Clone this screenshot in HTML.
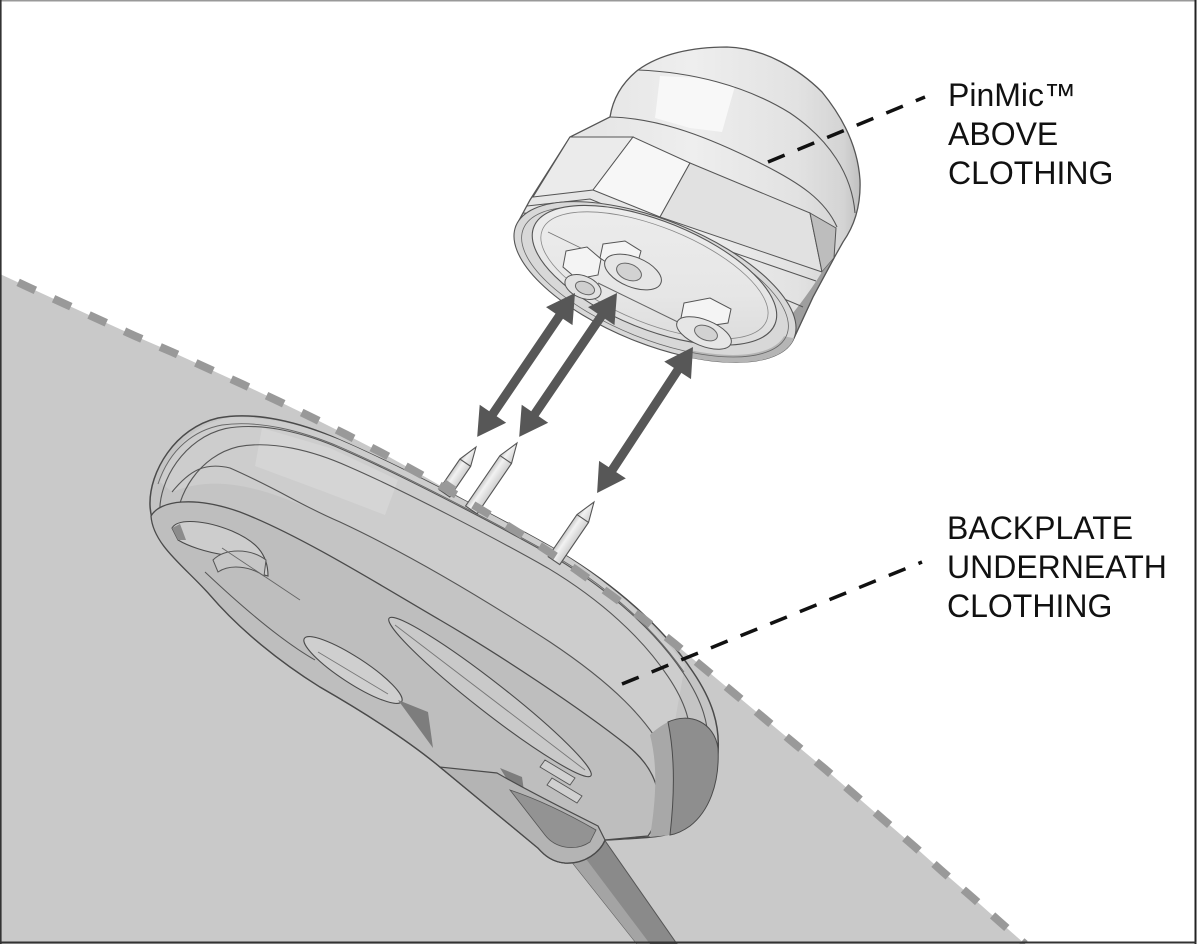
<!DOCTYPE html>
<html>
<head>
<meta charset="utf-8">
<style>
html,body{margin:0;padding:0;background:#fff;}
svg{display:block;}
text{font-family:"Liberation Sans","DejaVu Sans",sans-serif;}
</style>
</head>
<body>
<svg width="1200" height="944" viewBox="0 0 1200 944" xmlns="http://www.w3.org/2000/svg">
<defs>
  <linearGradient id="domeG" x1="600" y1="0" x2="862" y2="0" gradientUnits="userSpaceOnUse">
    <stop offset="0" stop-color="#e6e6e6"/>
    <stop offset="0.35" stop-color="#eeeeee"/>
    <stop offset="0.75" stop-color="#e2e2e2"/>
    <stop offset="0.93" stop-color="#d4d4d4"/>
    <stop offset="1" stop-color="#bdbdbd"/>
  </linearGradient>
  <linearGradient id="faceG" x1="0" y1="0" x2="1" y2="1">
    <stop offset="0" stop-color="#eeeeee"/>
    <stop offset="0.6" stop-color="#e6e6e6"/>
    <stop offset="1" stop-color="#d6d6d6"/>
  </linearGradient>
  <linearGradient id="pinG" x1="0" y1="0" x2="1" y2="0">
    <stop offset="0" stop-color="#c8c8c8"/>
    <stop offset="0.35" stop-color="#f2f2f2"/>
    <stop offset="1" stop-color="#cfcfcf"/>
  </linearGradient>
</defs>

<rect width="1200" height="944" fill="#ffffff"/>

<!-- clothing region -->
<polygon fill="#c9c9c9" points="0,274 28,287 65,304 100,320 135,336 172,352 207,368 242,384 278,401 313,418 347,435 382,453 420,474 460,497 500,521 540,546 575,569 611,595 645,620 675,644 705,669 735,694 765,719 795,744 825,769 855,795 885,821 915,847 943,872 973,898 1000,922 1025,944 0,944"/>

<!-- cable -->
<polygon points="556,842 592,822 677,944 637,944" fill="#8a8a8a" stroke="#555" stroke-width="1"/>
<polygon points="556,842 568,835 650,944 637,944" fill="#a4a4a4"/>

<!-- backplate silhouette -->
<path d="M 150,505 C 149,472 175,428 218,418 C 255,411 300,422 340,440 C 400,466 500,518 560,552 C 620,588 665,630 693,672 C 712,700 720,725 718,752 C 716,785 705,815 680,830 C 665,838 640,838 605,840 C 600,852 585,864 565,863 C 553,862 545,856 538,848 L 440,767 C 405,738 360,710 320,687 C 280,662 240,630 210,595 C 185,567 151,540 150,505 Z" fill="#c4c4c4" stroke="#4a4a4a" stroke-width="1.5"/>

<!-- upper band lighter -->
<path d="M 160,482 C 175,440 200,422 233,417 C 280,418 310,428 340,440 C 400,466 500,518 560,552 C 615,585 655,625 685,665 L 668,760 C 650,720 610,682 550,642 C 470,590 400,550 340,522 C 280,495 225,470 172,492 Z" fill="#cdcdcd"/>
<path d="M 262,428 L 330,448 L 398,480 L 385,515 L 325,492 L 255,466 Z" fill="#d5d5d5"/>

<!-- band lines (inset copies) -->
<g fill="none" stroke="#555" stroke-width="1.1">
  <path d="M 150,505 C 149,472 175,428 218,418 C 255,411 300,422 340,440 C 400,466 500,518 560,552 C 620,588 665,630 693,672 C 712,700 720,725 718,752 C 716,785 705,815 680,830 C 665,838 640,838 605,840" transform="translate(430,720) scale(0.965) translate(-430,-720)" vector-effect="non-scaling-stroke"/>
  <path d="M 150,505 C 149,472 175,428 218,418 C 255,411 300,422 340,440 C 400,466 500,518 560,552 C 620,588 665,630 693,672 C 712,700 720,725 718,752 C 716,785 705,815 680,830 C 665,838 640,838 605,840" transform="translate(430,720) scale(0.905) translate(-430,-720)" vector-effect="non-scaling-stroke"/>
  <path d="M 172,492 C 190,470 205,462 230,468 C 280,490 300,505 340,522 C 400,550 470,590 550,642 C 610,682 650,720 668,760"/>
</g>
<path d="M 158,484 C 170,448 195,430 222,425 C 258,420 300,430 340,447 C 400,473 500,525 560,559 C 615,592 656,632 684,672" fill="none" stroke="#666" stroke-width="0.9"/>

<!-- underside face -->
<path d="M 151,516 C 160,500 195,496 240,512 C 300,535 380,585 440,620 C 500,655 580,708 628,746 C 660,772 668,808 648,836 L 605,840 C 600,852 585,864 565,863 C 553,862 545,856 538,848 L 440,767 C 405,738 360,710 320,687 C 280,662 240,630 210,595 C 185,567 153,545 151,516 Z" fill="#bebebe" stroke="#4a4a4a" stroke-width="1.3"/>

<!-- slots and features on underside -->
<path d="M 172,528 C 178,518 205,520 232,531 C 255,541 268,553 268,576 L 261,574 C 258,562 245,556 225,555 C 205,552 188,546 178,540 Z" fill="#cdcdcd" stroke="#4a4a4a" stroke-width="1.1"/>
<polygon points="172,528 180,524 186,540 178,540" fill="#8c8c8c"/>
<path d="M 213,560 C 225,548 250,548 266,560 L 264,576 C 250,566 230,564 218,572 Z" fill="#c6c6c6" stroke="#555" stroke-width="1"/>
<ellipse cx="353" cy="670" rx="58" ry="13" transform="rotate(33 353 670)" fill="#cfcfcf" stroke="#4a4a4a" stroke-width="1.1"/>
<line x1="318" y1="652" x2="388" y2="694" stroke="#777" stroke-width="0.9"/>
<ellipse cx="490" cy="697" rx="128" ry="15" transform="rotate(38 490 697)" fill="#c9c9c9" stroke="#4a4a4a" stroke-width="1.1"/>
<line x1="395" y1="625" x2="585" y2="770" stroke="#777" stroke-width="0.9"/>
<polygon points="398,700 428,712 433,748" fill="#7d7d7d"/>
<polygon points="500,768 522,777 527,812" fill="#7d7d7d"/>
<polygon points="545,760 575,778 570,785 540,767" fill="#d0d0d0" stroke="#555" stroke-width="0.9"/>
<polygon points="552,778 582,796 577,803 547,785" fill="#d0d0d0" stroke="#555" stroke-width="0.9"/>
<path d="M 205,572 C 240,605 280,640 315,660" fill="none" stroke="#555" stroke-width="1"/>
<path d="M 222,548 L 300,600" stroke="#666" stroke-width="0.9"/>

<!-- tongue -->
<path d="M 440,767 L 538,848 C 545,856 553,862 565,863 C 585,864 600,852 605,840 L 598,826 C 570,812 530,792 497,773 Z" fill="#b4b4b4" stroke="#4a4a4a" stroke-width="1.2"/>
<path d="M 510,790 L 545,835 C 555,848 575,852 590,842 L 596,830 C 570,815 540,800 510,790 Z" fill="#939393" stroke="#555" stroke-width="0.8"/>

<!-- right end dark -->
<path d="M 650,735 C 655,730 662,725 668,722 C 676,760 674,800 670,835 L 650,837 C 656,800 658,765 650,735 Z" fill="#a8a8a8"/>
<path d="M 668,722 C 690,712 714,722 718,748 C 720,785 708,812 690,826 C 683,831 676,834 670,835 C 674,800 676,760 668,722 Z" fill="#8e8e8e" stroke="#4a4a4a" stroke-width="1"/>

<!-- pins -->
<g stroke="#555" stroke-width="1.1" fill="url(#pinG)">
  <g transform="translate(476,447) rotate(34.3)">
    <path d="M0,0 L6.5,19 L6.5,56 L-6.5,56 L-6.5,19 Z"/>
    <path d="M-6.5,19 L6.5,19" fill="none"/>
    <rect x="-6.5" y="44" width="13" height="10" fill="#9a9a9a" stroke="none"/>
  </g>
  <g transform="translate(517,443) rotate(34.3)">
    <path d="M0,0 L7,20 L7,81 L-7,81 L-7,20 Z"/>
    <path d="M-7,20 L7,20" fill="none"/>
  </g>
  <g transform="translate(594,502) rotate(34.3)">
    <path d="M0,0 L7,20 L7,71 L-7,71 L-7,20 Z"/>
    <path d="M-7,20 L7,20" fill="none"/>
  </g>
</g>

<!-- clothing dashed edge -->
<polyline fill="none" stroke="#999999" stroke-width="8" stroke-dasharray="19 20" stroke-dashoffset="19" points="0,274 28,287 65,304 100,320 135,336 172,352 207,368 242,384 278,401 313,418 347,435 382,453 420,474 460,497 500,521 540,546 575,569 611,595 645,620 675,644 705,669 735,694 765,719 795,744 825,769 855,795 885,821 915,847 943,872 973,898 1000,922 1025,944"/>

<!-- ===== MICROPHONE ===== -->
<!-- body silhouette -->
<path d="M 516,226 L 530,200 L 570,137 L 610,117 C 613,98 623,82 638,70 C 660,54 692,47 727,47 C 765,48 800,70 822,92 C 845,120 858,150 860,180 C 861,205 855,225 843,242 L 834,258 L 813,297 L 794,338 Z" fill="url(#domeG)" stroke="#555" stroke-width="1.3"/>
<!-- dome highlight -->
<polygon points="660,76 700,78 735,86 722,132 690,128 655,118" fill="#f8f8f8"/>
<polygon points="593,140 625,141 618,156 588,152" fill="#f3f3f3"/>
<!-- dome lines -->
<g fill="none" stroke="#555" stroke-width="1.1">
  <path d="M 638,70 C 690,72 745,85 790,113 C 830,140 852,175 855,213"/>
  <path d="M 610,117 C 660,118 710,138 760,163 C 800,183 825,200 837,227"/>
</g>
<!-- hex nut facets -->
<g stroke="#555" stroke-width="1">
  <polygon points="570,137 633,137 593,190 533,197" fill="#ebebeb"/>
  <polygon points="633,137 690,163 660,217 593,190" fill="#f7f7f7"/>
  <polygon points="690,163 810,213 822,272 660,217" fill="#e1e1e1"/>
  <polygon points="810,213 836,228 834,258 822,272" fill="#bdbdbd"/>
</g>
<!-- right dark region below hex -->
<path d="M 822,272 L 834,258 L 813,297 L 794,338 L 772,338 C 792,315 808,295 822,272 Z" fill="#9e9e9e" stroke="none"/>
<!-- rim lines below hex -->
<g fill="none" stroke="#555" stroke-width="1">
  <path d="M 527,206 L 590,199 L 656,226 L 816,281"/>
  <path d="M 523,213 C 570,215 630,235 690,260 C 740,281 780,297 803,307"/>
</g>
<path d="M 834,258 L 813,297 L 794,338" fill="none" stroke="#555" stroke-width="1.3"/>

<g transform="translate(655,282) rotate(22)" stroke="#555" stroke-width="1.1">
  <!-- front face -->
  <ellipse cx="0" cy="0" rx="150" ry="62" fill="#d8d8d8"/>
  <path d="M 150,0 A 150,62 0 0 1 60,57 L 58,50 A 140,56 0 0 0 140,2 Z" fill="#b5b5b5" stroke="none"/>
  <ellipse cx="0" cy="0" rx="142" ry="57" fill="none" stroke="#666" stroke-width="0.8"/>
  <ellipse cx="-3" cy="-6" rx="130" ry="54" fill="url(#faceG)"/>
  <ellipse cx="-3" cy="-6" rx="121" ry="48" fill="none" stroke="#888" stroke-width="0.8"/>
</g>
<line x1="598" y1="283" x2="686" y2="326" stroke="#666" stroke-width="1"/>
<line x1="548" y1="232" x2="585" y2="250" stroke="#777" stroke-width="0.9"/>

<!-- bosses -->
<g stroke="#555" stroke-width="1">
  <polygon points="566,251 587,247 601,259 598,275 577,279 563,267" fill="#f4f4f4"/>
  <ellipse cx="583" cy="287" rx="19" ry="11" transform="rotate(22 583 287)" fill="#e2e2e2"/>
  <ellipse cx="585" cy="288" rx="10" ry="6" transform="rotate(22 585 288)" fill="#cfcfcf" stroke="#666"/>
  <polygon points="603,244 625,241 641,251 637,265 615,268 600,258" fill="#f4f4f4"/>
  <ellipse cx="633" cy="272" rx="30" ry="15" transform="rotate(22 633 272)" fill="#e6e6e6"/>
  <ellipse cx="629" cy="272" rx="13" ry="8" transform="rotate(22 629 272)" fill="#d2d2d2" stroke="#666"/>
  <polygon points="684,303 710,298 731,309 728,323 701,327 681,318" fill="#f4f4f4"/>
  <ellipse cx="704" cy="333" rx="29" ry="13" transform="rotate(22 704 333)" fill="#e6e6e6"/>
  <ellipse cx="706" cy="333" rx="12" ry="7" transform="rotate(22 706 333)" fill="#d2d2d2" stroke="#666"/>
</g>

<!-- double arrows -->
<g fill="#575757">
  <g transform="translate(575,293) rotate(124.2)">
    <polygon points="0,0 28,-16 28,-4.5 146,-4.5 146,-16 174,0 146,16 146,4.5 28,4.5 28,16"/>
  </g>
  <g transform="translate(617,293) rotate(124.2)">
    <polygon points="0,0 28,-16 28,-4.5 146,-4.5 146,-16 174,0 146,16 146,4.5 28,4.5 28,16"/>
  </g>
  <g transform="translate(693,347) rotate(123.3)">
    <polygon points="0,0 28,-16 28,-4.5 146.7,-4.5 146.7,-16 174.7,0 146.7,16 146.7,4.5 28,4.5 28,16"/>
  </g>
</g>

<!-- leader lines -->
<g stroke="#111" stroke-width="3.5" stroke-dasharray="18 14" fill="none">
  <path d="M 768,162 L 925,97"/>
  <path d="M 622,684 L 922,562"/>
</g>

<!-- labels -->
<g fill="#111" font-size="32">
  <text x="948" y="106">PinMic™</text>
  <text x="948" y="145">ABOVE</text>
  <text x="948" y="184">CLOTHING</text>
  <text x="947" y="539">BACKPLATE</text>
  <text x="947" y="578">UNDERNEATH</text>
  <text x="947" y="617">CLOTHING</text>
</g>

<!-- frame -->
<rect x="0" y="0" width="1196" height="1.5" fill="#999"/>
<rect x="0" y="0" width="1.6" height="944" fill="#333"/>
<rect x="1194.5" y="0" width="2" height="944" fill="#222"/>
<rect x="0" y="941.5" width="1196.5" height="2" fill="#333"/>
</svg>
</body>
</html>
